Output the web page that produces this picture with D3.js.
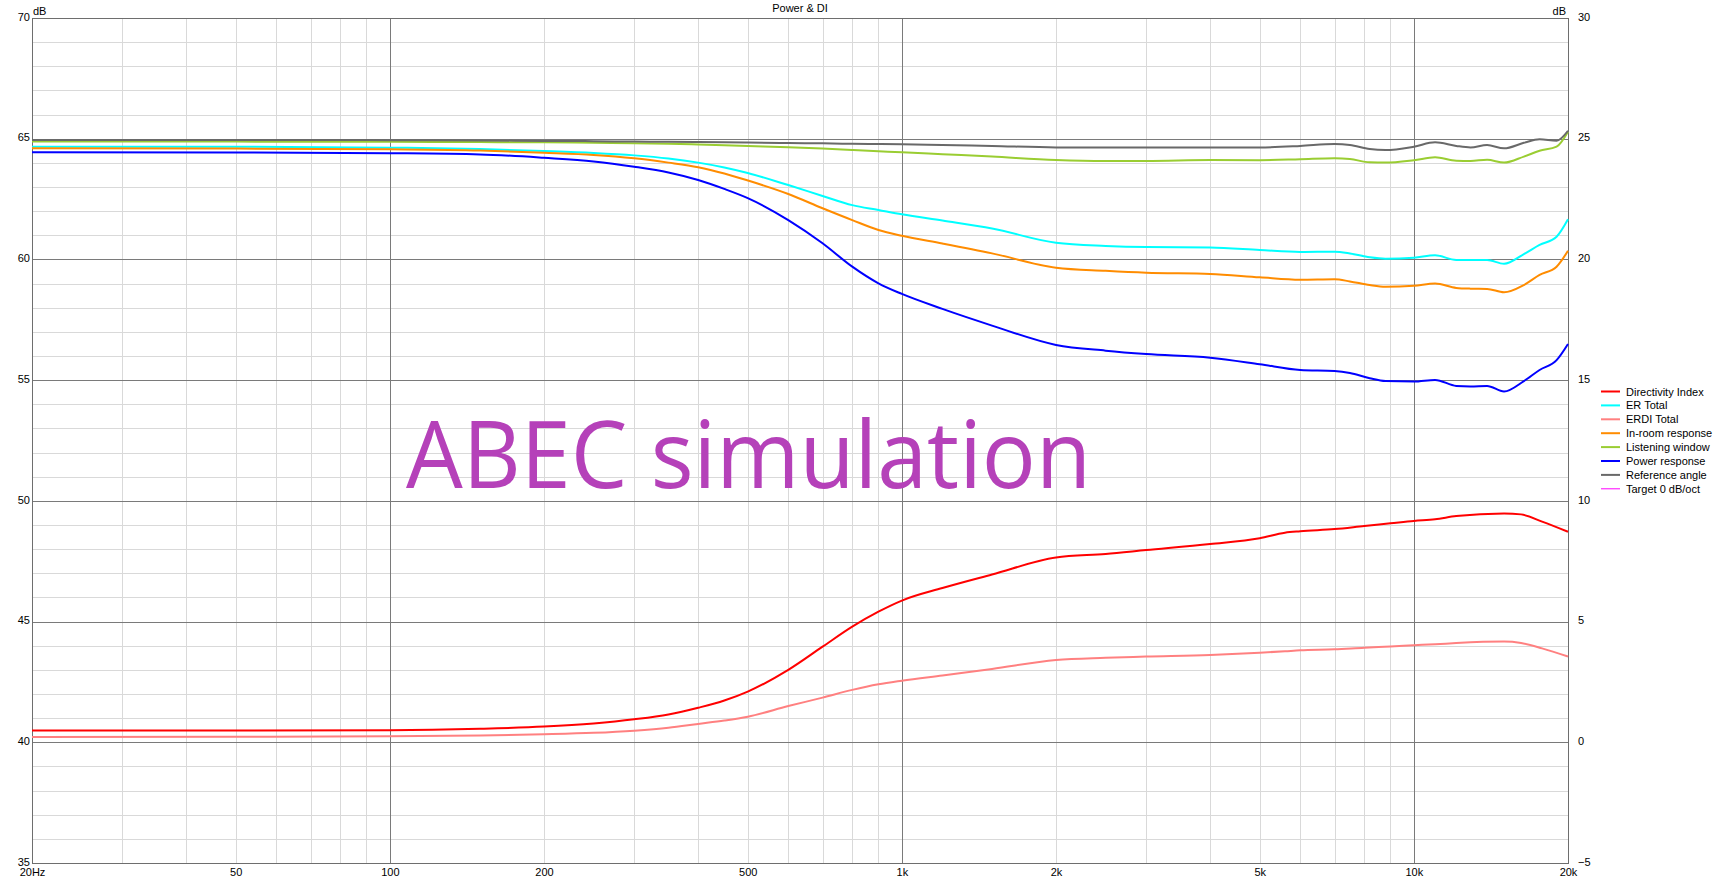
<!DOCTYPE html>
<html>
<head>
<meta charset="utf-8">
<script src="https://cdn.jsdelivr.net/npm/d3@7"></script>
<style>
html,body{margin:0;padding:0;background:#fff;}
svg{display:block;}
text{font-family:"Liberation Sans",Arial,sans-serif;font-size:11px;fill:#000;}
</style>
</head>
<body>
<svg id="chart" width="1720" height="881"></svg>
<script>
// ---------------- data ----------------
const freqs = [20, 50, 100, 150, 200, 250, 300, 350, 400, 450, 500, 600, 700, 800, 900, 1000, 1200, 1500, 2000, 2500, 3000, 4000, 5000, 6000, 7000, 7500, 8200, 8800, 10000, 11000, 12100, 12900, 13900, 15000, 16400, 17600, 19000, 20000];
const erTotal = [64.67, 64.67, 64.63, 64.57, 64.49, 64.41, 64.31, 64.18, 64.01, 63.81, 63.58, 63.08, 62.63, 62.25, 62.05, 61.87, 61.61, 61.28, 60.69, 60.56, 60.51, 60.49, 60.39, 60.31, 60.32, 60.25, 60.09, 60.03, 60.07, 60.17, 59.98, 59.98, 59.98, 59.82, 60.22, 60.60, 60.94, 61.66];
const inRoomResponse = [64.60, 64.59, 64.56, 64.51, 64.42, 64.33, 64.19, 64.01, 63.82, 63.56, 63.27, 62.71, 62.12, 61.63, 61.22, 60.98, 60.66, 60.25, 59.66, 59.53, 59.45, 59.40, 59.26, 59.16, 59.18, 59.09, 58.94, 58.87, 58.91, 59.00, 58.82, 58.79, 58.78, 58.64, 58.94, 59.36, 59.70, 60.36];
const listeningWindow = [64.88, 64.88, 64.87, 64.86, 64.85, 64.83, 64.81, 64.79, 64.76, 64.73, 64.70, 64.65, 64.59, 64.53, 64.48, 64.44, 64.36, 64.26, 64.12, 64.08, 64.08, 64.12, 64.11, 64.15, 64.19, 64.16, 64.02, 64.01, 64.11, 64.23, 64.09, 64.08, 64.13, 64.01, 64.26, 64.50, 64.67, 65.29];
const powerResponse = [64.44, 64.43, 64.40, 64.35, 64.21, 64.06, 63.84, 63.60, 63.29, 62.92, 62.54, 61.63, 60.67, 59.70, 59.01, 58.57, 57.95, 57.26, 56.46, 56.22, 56.08, 55.93, 55.66, 55.42, 55.38, 55.30, 55.08, 54.96, 54.94, 55.01, 54.76, 54.74, 54.76, 54.53, 54.96, 55.42, 55.83, 56.50];
const referenceAngle = [64.95, 64.95, 64.94, 64.93, 64.91, 64.90, 64.88, 64.87, 64.86, 64.85, 64.84, 64.82, 64.81, 64.79, 64.78, 64.77, 64.74, 64.70, 64.64, 64.64, 64.64, 64.64, 64.64, 64.70, 64.78, 64.74, 64.57, 64.53, 64.67, 64.85, 64.70, 64.64, 64.74, 64.60, 64.83, 64.98, 64.92, 65.33];

// directivity curves (right axis)
const freqsDI = [20, 50, 100, 150, 200, 250, 300, 350, 400, 450, 500, 600, 700, 800, 900, 1000, 1200, 1500, 2000, 2500, 3000, 4000, 5000, 5600, 6000, 7000, 8000, 9000, 10000, 11000, 12100, 15000, 16200, 17800, 20000];
const directivityIndex = [0.49, 0.49, 0.50, 0.56, 0.65, 0.78, 0.95, 1.15, 1.43, 1.73, 2.10, 3.00, 3.96, 4.79, 5.41, 5.87, 6.39, 6.95, 7.65, 7.80, 7.96, 8.21, 8.45, 8.68, 8.74, 8.83, 8.96, 9.07, 9.17, 9.24, 9.37, 9.48, 9.44, 9.14, 8.72];
const erdiTotal = [0.22, 0.23, 0.25, 0.28, 0.33, 0.39, 0.48, 0.60, 0.76, 0.90, 1.06, 1.50, 1.85, 2.17, 2.40, 2.55, 2.77, 3.04, 3.41, 3.50, 3.55, 3.62, 3.71, 3.77, 3.81, 3.85, 3.92, 3.97, 4.02, 4.06, 4.11, 4.17, 4.11, 3.89, 3.55];

const legendNames = ["Directivity Index", "ER Total", "ERDI Total", "In-room response", "Listening window", "Power response", "Reference angle", "Target 0 dB/oct"];
const legendColors = ["#ff0000", "#00ffff", "#ff8080", "#ff8c00", "#9acd32", "#0000ff", "#696969", "#ff00ff"];

const xTickValues = [20, 50, 100, 200, 500, 1000, 2000, 5000, 10000, 20000];
const xTickLabels = ["20Hz", "50", "100", "200", "500", "1k", "2k", "5k", "10k", "20k"];
const xMinorTicks = [30,40,50,60,70,80,90,200,300,400,500,600,700,800,900,2000,3000,4000,5000,6000,7000,8000,9000];
const xMajorTicks = [100, 1000, 10000];
const leftTicks = [35, 40, 45, 50, 55, 60, 65, 70];
const rightTicks = [-5, 0, 5, 10, 15, 20, 25, 30];

const chartTitle = "Power & DI";
const watermark = "ABEC simulation";

// ---------------- layout ----------------
const L = 32, R = 1568, T = 18, B = 863;
const svg = d3.select("#chart");

const x = d3.scaleLog().domain([20, 20000]).range([L, R]);
const yL = d3.scaleLinear().domain([35, 70]).range([B, T]);
const yR = d3.scaleLinear().domain([-5, 30]).range([B, T]);

const grid = svg.append("g").attr("shape-rendering", "crispEdges");
// horizontal minor gridlines (1 dB)
grid.selectAll("line.hmin").data(d3.range(36, 70).filter(v => v % 5 !== 0)).join("line")
  .attr("x1", L).attr("x2", R).attr("y1", d => Math.round(yL(d)) + 0.5).attr("y2", d => Math.round(yL(d)) + 0.5)
  .attr("stroke", "#d9d9d9").attr("stroke-width", 1);
// vertical minor
grid.selectAll("line.vmin").data(xMinorTicks).join("line")
  .attr("y1", T).attr("y2", B).attr("x1", d => Math.round(x(d)) + 0.5).attr("x2", d => Math.round(x(d)) + 0.5)
  .attr("stroke", "#d9d9d9").attr("stroke-width", 1);
// horizontal major
grid.selectAll("line.hmaj").data(leftTicks.slice(1, -1)).join("line")
  .attr("x1", L).attr("x2", R).attr("y1", d => Math.round(yL(d)) + 0.5).attr("y2", d => Math.round(yL(d)) + 0.5)
  .attr("stroke", "#7a7a7a").attr("stroke-width", 1);
// vertical major
grid.selectAll("line.vmaj").data(xMajorTicks).join("line")
  .attr("y1", T).attr("y2", B).attr("x1", d => Math.round(x(d)) + 0.5).attr("x2", d => Math.round(x(d)) + 0.5)
  .attr("stroke", "#7a7a7a").attr("stroke-width", 1);
// frame
grid.append("rect").attr("x", L + 0.5).attr("y", T + 0.5).attr("width", R - L).attr("height", B - T)
  .attr("fill", "none").attr("stroke", "#6e6e6e").attr("stroke-width", 1);

// watermark text
svg.append("text").attr("x", 406).attr("y", 488)
  .attr("textLength", 685).attr("lengthAdjust", "spacingAndGlyphs")
  .style("font-family", "'Open Sans','Noto Sans',sans-serif").style("font-size", "94px").style("fill", "#b541b9")
  .text(watermark);

// curves
const lineL = d3.line().x(d => x(d[0])).y(d => yL(d[1])).curve(d3.curveMonotoneX);
const lineR = d3.line().x(d => x(d[0])).y(d => yR(d[1])).curve(d3.curveMonotoneX);
const curves = svg.append("g").attr("fill", "none").attr("stroke-width", 2).attr("stroke-linejoin", "round");
function drawL(vals, col) { curves.append("path").datum(freqs.map((f, i) => [f, vals[i]])).attr("d", lineL).attr("stroke", col); }
function drawR(vals, col) { curves.append("path").datum(freqsDI.map((f, i) => [f, vals[i]])).attr("d", lineR).attr("stroke", col); }
drawR(directivityIndex, legendColors[0]);
drawL(erTotal, legendColors[1]);
drawR(erdiTotal, legendColors[2]);
drawL(inRoomResponse, legendColors[3]);
drawL(listeningWindow, legendColors[4]);
drawL(powerResponse, legendColors[5]);
drawL(referenceAngle, legendColors[6]);

// axes
const axL = svg.append("g").attr("transform", `translate(${L},0)`)
  .call(d3.axisLeft(yL).tickValues(leftTicks).tickSize(0).tickPadding(2).tickFormat(d3.format("d")));
const axR = svg.append("g").attr("transform", `translate(${R},0)`)
  .call(d3.axisRight(yR).tickValues(rightTicks).tickSize(0).tickPadding(10).tickFormat(d3.format("d")));
const axB = svg.append("g").attr("transform", `translate(0,${B})`)
  .call(d3.axisBottom(x).tickValues(xTickValues).tickSize(0).tickPadding(5).tickFormat((d, i) => xTickLabels[i]));
[axL, axR, axB].forEach(a => {
  a.select(".domain").remove();
  a.selectAll("text").style("font-family", "'Liberation Sans',Arial,sans-serif").style("font-size", "11px").attr("fill", "#000");
});
axL.selectAll("text").attr("dy", "0.2em");
axR.selectAll("text").attr("dy", "0.2em");

// titles
svg.append("text").attr("x", 33).attr("y", 15).text("dB");
svg.append("text").attr("x", 1566).attr("y", 15).attr("text-anchor", "end").text("dB");
svg.append("text").attr("x", (L + R) / 2).attr("y", 12).attr("text-anchor", "middle").text(chartTitle);

// legend
const lg = svg.append("g").attr("transform", "translate(1601,391)");
const rows = lg.selectAll("g").data(legendNames).join("g").attr("transform", (d, i) => `translate(0,${i * 13.9})`);
rows.append("line").attr("x1", 0).attr("x2", 19).attr("y1", 0.5).attr("y2", 0.5)
  .attr("stroke", (d, i) => legendColors[i]).attr("stroke-width", (d, i) => i === 7 ? 1 : 2);
rows.append("text").attr("x", 25).attr("y", 4.5).text(d => d);
</script>
</body>
</html>
